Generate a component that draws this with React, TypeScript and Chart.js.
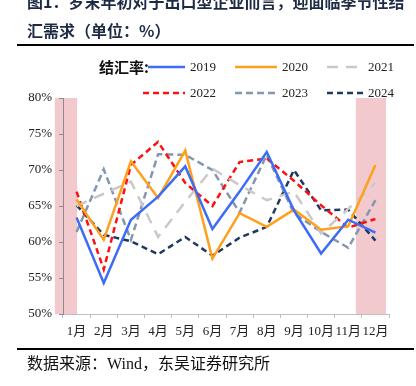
import React, { useEffect, useRef } from 'react';
import { Chart, registerables } from 'chart.js';

Chart.register(...registerables);

const months = ['1月', '2月', '3月', '4月', '5月', '6月', '7月', '8月', '9月', '10月', '11月', '12月'];
const years = ['2019', '2020', '2021', '2022', '2023', '2024'];

const s2019 = [63.4, 54.3, 63.1, 66.3, 70.5, 61.8, 67.0, 72.5, 64.4, 58.4, 63.1, 61.3];
const s2020 = [65.9, 60.3, 71.2, 66.1, 72.7, 57.7, 64.0, 62.1, 64.5, 61.7, 62.2, 70.7];
const s2021 = [65.0, 66.7, 68.4, 60.7, 65.6, 70.2, 67.9, 65.8, 67.0, 61.2, 64.6, 68.2];
const s2022 = [67.0, 56.2, 70.7, 73.9, 68.2, 65.0, 71.1, 71.6, 68.5, 65.1, 62.0, 63.2];
const s2023 = [61.4, 70.1, 60.3, 72.2, 72.1, 70.0, 64.1, 72.1, 64.0, 61.4, 59.2, 65.8];
const s2024 = [65.1, 61.0, 60.1, 58.3, 60.7, 58.1, 60.6, 62.1, 70.0, 64.4, 64.5, 60.2];

// highlighted seasonal periods, as [from, to] in month-index units on the category axis
const shadeFrom = [-0.8, 10.28];
const shadeTo = [0.02, 11.39];
const shadeRange = [50, 80];

const yMin = 50;
const yMax = 80;
const yStep = 5;

const titleLines = ['图1：岁末年初对于出口型企业而言，迎面临季节性结', '汇需求（单位：%）'];
const legendTitle = '结汇率:';
const sourceText = '数据来源：Wind，东吴证券研究所';

const SERIF = '"Liberation Serif", "Noto Sans CJK SC", serif';

const shade = {
  id: 'shade',
  beforeDraw(chart: any) {
    const ctx = chart.ctx as CanvasRenderingContext2D;
    const xs = chart.scales.x;
    const ys = chart.scales.y;
    ctx.save();
    ctx.fillStyle = '#F2CACD';
    const yTop = ys.getPixelForValue(shadeRange[1]);
    const yBot = ys.getPixelForValue(shadeRange[0]);
    for (let i = 0; i < shadeFrom.length; i++) {
      const x0 = xs.getPixelForValue(shadeFrom[i]);
      const x1 = xs.getPixelForValue(shadeTo[i]);
      ctx.fillRect(x0, yTop, x1 - x0, yBot - yTop);
    }
    ctx.restore();
  },
};

const decor = {
  id: 'decor',
  afterDraw(chart: any) {
    const ctx = chart.ctx as CanvasRenderingContext2D;
    ctx.save();
    ctx.textBaseline = 'middle';
    ctx.textAlign = 'left';
    // title
    ctx.fillStyle = '#1E2B45';
    ctx.font = 'bold 16px "Noto Sans CJK SC"';
    ctx.fillText(titleLines[0], 27, 2);
    ctx.fillText(titleLines[1], 27, 31);
    // rules
    ctx.fillStyle = '#000';
    ctx.fillRect(17, 44, 397, 2);
    ctx.fillRect(17, 348, 397, 2);
    // legend
    ctx.fillStyle = '#111';
    ctx.font = 'bold 15px "Noto Sans CJK SC"';
    ctx.fillText(legendTitle, 99, 67);
    const slots = [
      [148, 185, 67], [235, 277, 67], [327, 363, 67],
      [143, 185, 93], [235, 277, 93], [327, 363, 93],
    ];
    chart.data.datasets.forEach((d: any, i: number) => {
      const [x0, x1, y] = slots[i];
      ctx.save();
      ctx.strokeStyle = d.borderColor;
      ctx.lineWidth = d.borderWidth;
      ctx.setLineDash(d.borderDash || []);
      ctx.beginPath();
      ctx.moveTo(x0, y);
      ctx.lineTo(x1, y);
      ctx.stroke();
      ctx.restore();
      ctx.fillStyle = '#222';
      ctx.font = '13px ' + SERIF;
      ctx.fillText(d.label, x1 + 5, y + 1);
    });
    // source
    ctx.fillStyle = '#111';
    ctx.font = '16px ' + SERIF;
    ctx.fillText(sourceText, 27, 365);
    ctx.restore();
  },
};

export default function App() {
  const ref = useRef<HTMLCanvasElement>(null);

  useEffect(() => {
    if (!ref.current) return;
    const lineBase = { pointRadius: 0, borderWidth: 2.5, tension: 0, fill: false };
    const chart = new Chart(ref.current, {
      type: 'line',
      data: {
        labels: months,
        datasets: [
          { ...lineBase, label: years[0], data: s2019, borderColor: '#3D6CF5', borderDash: [] },
          { ...lineBase, label: years[1], data: s2020, borderColor: '#FF9F1A', borderDash: [] },
          { ...lineBase, label: years[2], data: s2021, borderColor: '#C9C9C9', borderDash: [11, 8] },
          { ...lineBase, label: years[3], data: s2022, borderColor: '#FF1010', borderDash: [6, 4] },
          { ...lineBase, label: years[4], data: s2023, borderColor: '#8497B0', borderDash: [7, 4] },
          { ...lineBase, label: years[5], data: s2024, borderColor: '#1F3A60', borderDash: [6, 4] },
        ] as any,
      },
      options: {
        responsive: false,
        animation: false,
        layout: { padding: { top: 98, right: 27, bottom: 42, left: 0 } },
        plugins: { legend: { display: false }, tooltip: { enabled: false }, title: { display: false } },
        scales: {
          x: {
            type: 'category',
            offset: true,
            grid: { display: true, drawOnChartArea: false, drawTicks: true, tickLength: 4, color: '#BFBFBF', offset: true },
            border: { display: true, color: '#BFBFBF', width: 1 },
            ticks: { color: '#222', font: { family: SERIF, size: 13 }, padding: 6, maxRotation: 0, autoSkip: false },
            afterFit: (s: any) => { s.height = 30; },
          },
          y: {
            type: 'linear',
            min: yMin,
            max: yMax,
            grid: { display: true, drawOnChartArea: false, drawTicks: true, tickLength: 4, color: '#8C8C8C' },
            border: { display: true, color: '#8C8C8C', width: 1 },
            ticks: {
              stepSize: yStep,
              color: '#222',
              font: { family: SERIF, size: 13 },
              padding: 7,
              callback: (v: any) => v + '%',
            },
            afterFit: (s: any) => { s.width = 63; },
          },
        },
      } as any,
      plugins: [shade, decor],
    });
    return () => chart.destroy();
  }, []);

  return (
    <div style={{ position: 'fixed', left: 0, top: 0, width: 416, height: 386, background: '#fff' }}>
      <canvas ref={ref} width={416} height={386} style={{ display: 'block' }} />
    </div>
  );
}
